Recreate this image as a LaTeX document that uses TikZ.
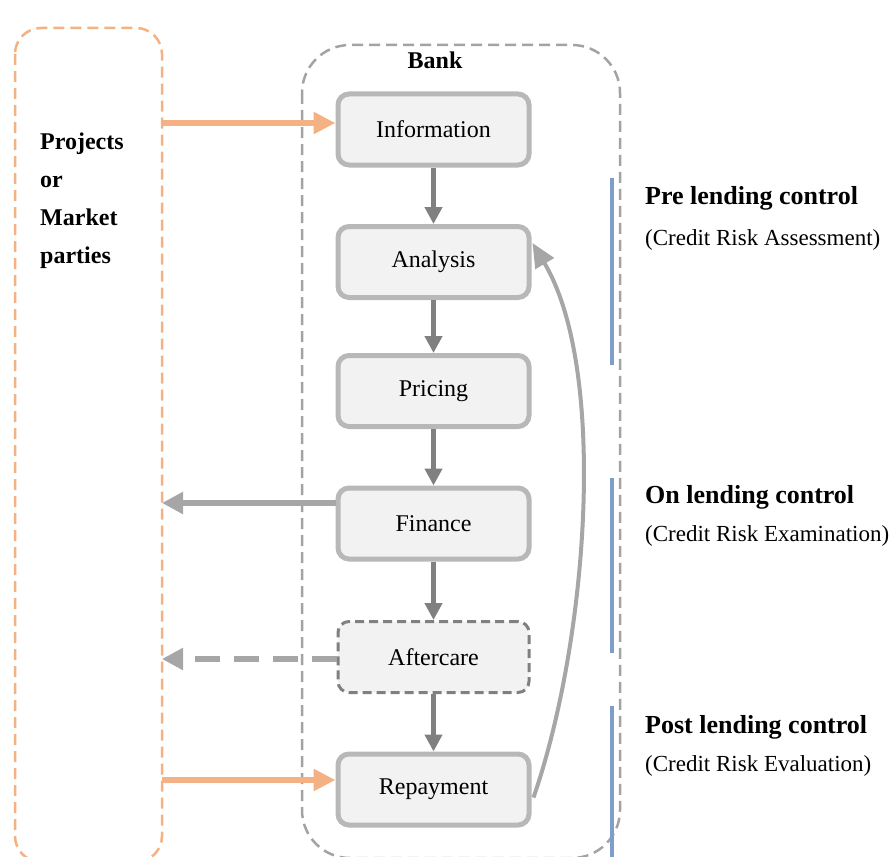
\documentclass[tikz,border=0pt]{standalone}
\usepackage{fontspec}
\setmainfont{Liberation Serif}
\usetikzlibrary{arrows.meta}
\definecolor{boxfill}{HTML}{F2F2F2}
\definecolor{boxline}{HTML}{B8B8B8}
\definecolor{darkarrow}{HTML}{808080}
\definecolor{lightarrow}{HTML}{A6A6A6}
\definecolor{peach}{HTML}{F4B183}
\definecolor{bankline}{HTML}{A3A3A3}
\definecolor{bar}{HTML}{7F9DCB}
\tikzset{
  stage/.style={draw=boxline, line width=5pt, fill=boxfill, rounded corners=11pt,
    minimum width=191pt, minimum height=71pt, inner sep=0pt,
    font=\fontsize{24}{28}\selectfont},
  softstage/.style={stage, draw=darkarrow, line width=3pt, dash pattern=on 9pt off 5pt},
  flow/.style={draw=darkarrow, line width=5pt, -{Triangle[length=17pt,width=17pt]}},
  outflow/.style={draw=lightarrow, line width=6pt, -{Triangle[length=21pt,width=21pt]}},
  inflow/.style={draw=peach, line width=5.5pt, -{Triangle[length=22pt,width=21pt]}},
  group/.style={line width=2.5pt, dash pattern=on 11pt off 6pt},
  phasebar/.style={draw=bar, line width=4pt},
  title/.style={font=\fontsize{26}{30}\selectfont\bfseries, anchor=west, inner sep=0pt},
  subtitle/.style={font=\fontsize{23}{27}\selectfont, anchor=west, inner sep=0pt},
}
\begin{document}
\begin{tikzpicture}[x=1pt,y=-1pt]
\useasboundingbox (0,0) rectangle (896,856);
\clip (0,0) rectangle (896,856);

% outer groups: counterparties and the bank
\draw[group, draw=peach, rounded corners=26pt] (15,28) rectangle (162,862);
\draw[group, draw=bankline, rounded corners=48pt] (302,45) rectangle (620,858);
\node[font=\fontsize{24}{28}\selectfont\bfseries] (bank) at (435,60) {Bank};

\node[font=\fontsize{24}{28}\selectfont\bfseries, anchor=north west, align=left, inner sep=0pt]
  (parties) at (40,133) {Projects\\[10pt]or\\[10pt]Market\\[10pt]parties};

% lending process stages
\node[stage] (info) at (433.5,129.5) {Information};
\node[stage] (ana)  at (433.5,262) {Analysis};
\node[stage] (pri)  at (433.5,391) {Pricing};
\node[stage] (fin)  at (433.5,523.5) {Finance};
\node[softstage] (aft) at (433.5,657) {Aftercare};
\node[stage] (rep)  at (433.5,789.5) {Repayment};

\coordinate (pin)  at (162,123);
\coordinate (pout1) at (162,503);
\coordinate (pout2) at (162,659);
\coordinate (prep) at (162,780);

\draw[flow] (info) -- (ana);
\draw[flow] (ana) -- (pri);
\draw[flow] (pri) -- (fin);
\draw[flow] (fin) -- (aft);
\draw[flow] (aft) -- (rep);

\draw[inflow] (pin) -- (pin -| info.west);
\draw[inflow] (prep) -- (prep -| rep.west);
\draw[outflow] (pout1 -| fin.west) -- (pout1);
\draw[outflow, dash pattern=on 25pt off 14pt] (pout2 -| aft.west) -- (pout2);

% feedback from repayment to analysis
\draw[draw=lightarrow, line width=4pt, -{Triangle[length=24pt,width=21pt]}]
  ([yshift=-8pt,xshift=2pt]rep.east) .. controls (588,640) and (608,370) .. ([yshift=19pt,xshift=1pt]ana.east);

% control phases
\draw[phasebar] (612,178) -- (612,365);
\draw[phasebar] (612,478) -- (612,653);
\draw[phasebar] (612,706) -- (612,870);

\node[title] (pre) at (645,198) {Pre lending control};
\node[subtitle] (pres) at (645,240) {(Credit Risk Assessment)};
\node[title] (on) at (645,497) {On lending control};
\node[subtitle] (ons) at (645,536) {(Credit Risk Examination)};
\node[title] (post) at (645,727) {Post lending control};
\node[subtitle] (posts) at (645,766) {(Credit Risk Evaluation)};
\end{tikzpicture}
\end{document}
